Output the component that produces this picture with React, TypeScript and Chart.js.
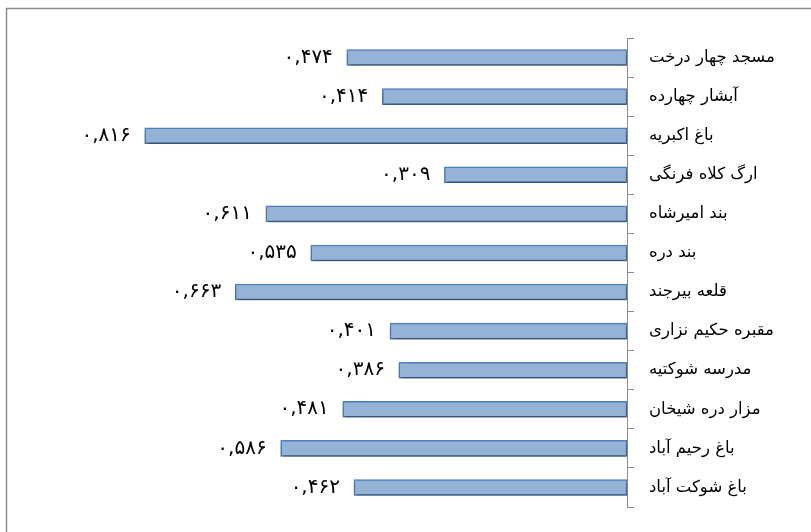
import React, { useEffect, useRef } from "react";
import { Chart, registerables } from "chart.js";

Chart.register(...registerables);

const categories = [
  "مسجد چهار درخت",
  "آبشار چهارده",
  "باغ اکبریه",
  "ارگ کلاه فرنگی",
  "بند امیرشاه",
  "بند دره",
  "قلعه بیرجند",
  "مقبره حکیم نزاری",
  "مدرسه شوکتیه",
  "مزار دره شیخان",
  "باغ رحیم آباد",
  "باغ شوکت آباد",
];

const values = [0.474, 0.414, 0.816, 0.309, 0.611, 0.535, 0.663, 0.401, 0.386, 0.481, 0.586, 0.462];

const valueLabels = [
  "۰,۴۷۴",
  "۰,۴۱۴",
  "۰,۸۱۶",
  "۰,۳۰۹",
  "۰,۶۱۱",
  "۰,۵۳۵",
  "۰,۶۶۳",
  "۰,۴۰۱",
  "۰,۳۸۶",
  "۰,۴۸۱",
  "۰,۵۸۶",
  "۰,۴۶۲",
];

const FONT = "'DejaVu Sans', 'Noto Sans', sans-serif";

const framePlugin = {
  id: "frame",
  beforeDraw(chart: any) {
    const ctx = chart.ctx;
    ctx.save();
    ctx.fillStyle = "#ffffff";
    ctx.fillRect(0, 0, chart.width, chart.height);
    ctx.strokeStyle = "#8c8c8c";
    ctx.lineWidth = 1.5;
    ctx.strokeRect(6.5, 8.5, 1200, 1200);
    ctx.restore();
  },
};

const shadowPlugin = {
  id: "barShadow",
  beforeDatasetDraw(chart: any) {
    const ctx = chart.ctx;
    ctx.save();
    ctx.shadowColor = "rgba(0,0,0,0.4)";
    ctx.shadowBlur = 4;
    ctx.shadowOffsetX = 1;
    ctx.shadowOffsetY = 3;
  },
  afterDatasetDraw(chart: any) {
    chart.ctx.restore();
  },
};

const valueLabelPlugin = {
  id: "valueLabels",
  afterDatasetsDraw(chart: any) {
    const ctx = chart.ctx;
    const meta = chart.getDatasetMeta(0);
    ctx.save();
    ctx.font = `20px ${FONT}`;
    ctx.fillStyle = "#000000";
    ctx.textAlign = "right";
    ctx.textBaseline = "middle";
    meta.data.forEach((bar: any, i: number) => {
      ctx.fillText(valueLabels[i], bar.x - 14, bar.y);
    });
    ctx.restore();
  },
};

export default function App() {
  const ref = useRef<HTMLCanvasElement>(null);

  useEffect(() => {
    if (!ref.current) return;
    const chart = new Chart(ref.current, {
      type: "bar",
      data: {
        labels: categories,
        datasets: [
          {
            data: values,
            backgroundColor: "#95B3D7",
            borderColor: "#4F81BD",
            borderWidth: 1.5,
            borderSkipped: false,
            barThickness: 16,
          },
        ],
      },
      options: {
        indexAxis: "y",
        animation: false,
        responsive: false,
        devicePixelRatio: 1,
        layout: { padding: { top: 38, bottom: 25, left: 36, right: 0 } },
        plugins: {
          legend: { display: false },
          tooltip: { enabled: false },
        },
        scales: {
          x: {
            display: false,
            reverse: true,
            min: 0,
            max: 1,
          },
          y: {
            position: "right",
            offset: true,
            afterFit: (scale: any) => {
              scale.width = 184;
            },
            border: { display: true, color: "#8c8c8c", width: 1 },
            grid: {
              offset: true,
              drawOnChartArea: false,
              drawTicks: true,
              tickLength: 7,
              color: "#8c8c8c",
              lineWidth: 1,
            },
            ticks: {
              padding: 15,
              color: "#000000",
              font: { family: FONT, size: 16.5 },
            },
          },
        },
      },
      plugins: [framePlugin, shadowPlugin, valueLabelPlugin],
    });
    return () => chart.destroy();
  }, []);

  return (
    <div style={{ position: "fixed", left: 0, top: 0, width: 811, height: 532 }}>
      <canvas ref={ref} width={811} height={532} style={{ width: 811, height: 532 }} />
    </div>
  );
}
